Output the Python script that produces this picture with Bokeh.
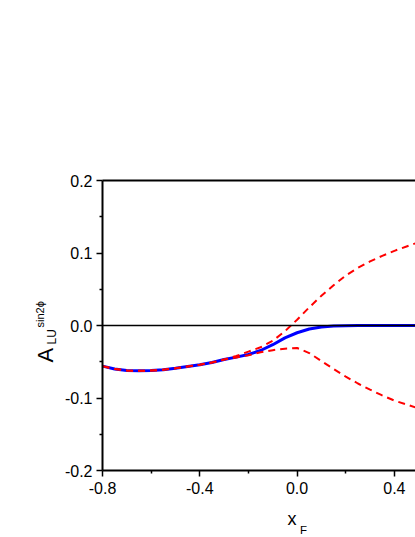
import math
from bokeh.plotting import figure
from bokeh.models import Range1d, FixedTicker, LinearAxis, Label, CustomJSTickFormatter
from bokeh.embed import file_html
from bokeh.resources import INLINE

# ---- data ----
x_f = [-0.8, -0.75, -0.7, -0.65, -0.6, -0.55, -0.5, -0.45, -0.4, -0.35, -0.3,
       -0.25, -0.2, -0.15, -0.1, -0.05, 0.0, 0.05, 0.1, 0.15, 0.2, 0.25,
       0.3, 0.35, 0.4, 0.45, 0.5]
a_central = [-0.056, -0.060, -0.062, -0.0625, -0.0622, -0.0610, -0.0590, -0.0565,
             -0.0540, -0.0510, -0.0470, -0.0436, -0.0400, -0.0345, -0.0265,
             -0.0170, -0.0100, -0.0048, -0.0020, -0.0008, -0.0003, -0.0001,
             0.0, 0.0, 0.0, 0.0, 0.0]
a_upper = [-0.056, -0.060, -0.062, -0.0625, -0.0622, -0.0610, -0.0590, -0.0565,
           -0.0540, -0.0510, -0.0470, -0.042, -0.036, -0.030, -0.021, -0.008,
           0.008, 0.025, 0.041, 0.0555, 0.069, 0.0795, 0.0885, 0.096, 0.103,
           0.109, 0.115]
a_lower = [-0.056, -0.060, -0.062, -0.0625, -0.0622, -0.0610, -0.0590, -0.0565,
           -0.0540, -0.0510, -0.0470, -0.044, -0.041, -0.037, -0.034, -0.032,
           -0.031, -0.038, -0.049, -0.060, -0.0705, -0.080, -0.0885, -0.0965,
           -0.1035, -0.109, -0.1145]
x_ticks = [-0.8, -0.4, 0.0, 0.4]
x_minor = [-0.6, -0.2, 0.2]
y_ticks = [-0.2, -0.1, 0.0, 0.1, 0.2]
y_minor = [-0.15, -0.05, 0.05, 0.15]
x_lo, x_hi = -0.8, 0.4867
y_lo, y_hi = -0.2, 0.2

FONT = "Liberation Sans"
W, H = 415, 537
# pixel layout of the plotting box inside the canvas
BOX_L, BOX_T, PX_PER_X, PX_PER_Y = 102, 180, 243.25, 725.0


def px2x(px):
    return x_lo + (px - BOX_L) / PX_PER_X


def py2y(py):
    return y_hi - (py - BOX_T) / PX_PER_Y


p = figure(width=W, height=H, output_backend="svg", toolbar_location=None,
           x_range=Range1d(px2x(0), px2x(W)), y_range=Range1d(py2y(H), py2y(0)),
           min_border=0, min_border_left=0, min_border_right=0,
           min_border_top=0, min_border_bottom=0)
p.outline_line_color = None
p.grid.visible = False
p.background_fill_color = "white"
p.border_fill_color = "white"

fmt = CustomJSTickFormatter(code="return tick.toFixed(1);")

xa = p.xaxis[0]
ya = p.yaxis[0]
xa.fixed_location = y_lo
xa.bounds = (x_lo, x_hi)
ya.fixed_location = x_lo
ya.bounds = (y_lo, y_hi)

for ax, major, minor in ((xa, x_ticks, x_minor), (ya, y_ticks, y_minor)):
    ax.ticker = FixedTicker(ticks=major, minor_ticks=minor)
    ax.formatter = fmt
    ax.axis_line_width = 2
    ax.axis_line_color = "black"
    ax.major_tick_line_width = 1.5
    ax.minor_tick_line_width = 1.5
    ax.major_tick_out = 6
    ax.major_tick_in = 0
    ax.minor_tick_out = 3
    ax.minor_tick_in = 0
    ax.major_label_text_font = FONT
    ax.major_label_text_font_size = "16px"
    ax.major_label_text_color = "black"
xa.major_label_standoff = 5
ya.major_label_standoff = 4

# top border of the box
top = LinearAxis(fixed_location=y_hi, bounds=(x_lo, x_hi), ticker=FixedTicker(ticks=[]),
                 axis_line_width=2, major_label_text_font_size="0px",
                 major_tick_out=0, minor_tick_out=0)
p.add_layout(top, "above")
# zero reference line
zero = LinearAxis(fixed_location=0.0, bounds=(x_lo, x_hi), ticker=FixedTicker(ticks=[]),
                  axis_line_width=1.5, major_label_text_font_size="0px",
                  major_tick_out=0, minor_tick_out=0)
p.add_layout(zero, "below")

p.line(x_f, a_central, line_color="#0000FF", line_width=3)
p.line(x_f, a_upper, line_color="#FF0000", line_width=2, line_dash="7 5")
p.line(x_f, a_lower, line_color="#FF0000", line_width=2, line_dash="7 5")


# axis titles
def title_part(px, py, text, size, angle=0.0):
    p.add_layout(Label(x=px2x(px), y=py2y(py), text=text, angle=angle,
                       text_font=FONT, text_font_size=size, text_color="black",
                       text_align="left", text_baseline="middle"))


title_part(44.5, 362, "A", "22px", math.pi / 2)
title_part(51.8, 344, "LU", "12px", math.pi / 2)
title_part(39.2, 327, "sin2ϕ", "11px", math.pi / 2)
title_part(287, 518, "x", "18px")
title_part(299.5, 529.5, "F", "11.5px")

open("out.html", "w").write(file_html(p, INLINE))
